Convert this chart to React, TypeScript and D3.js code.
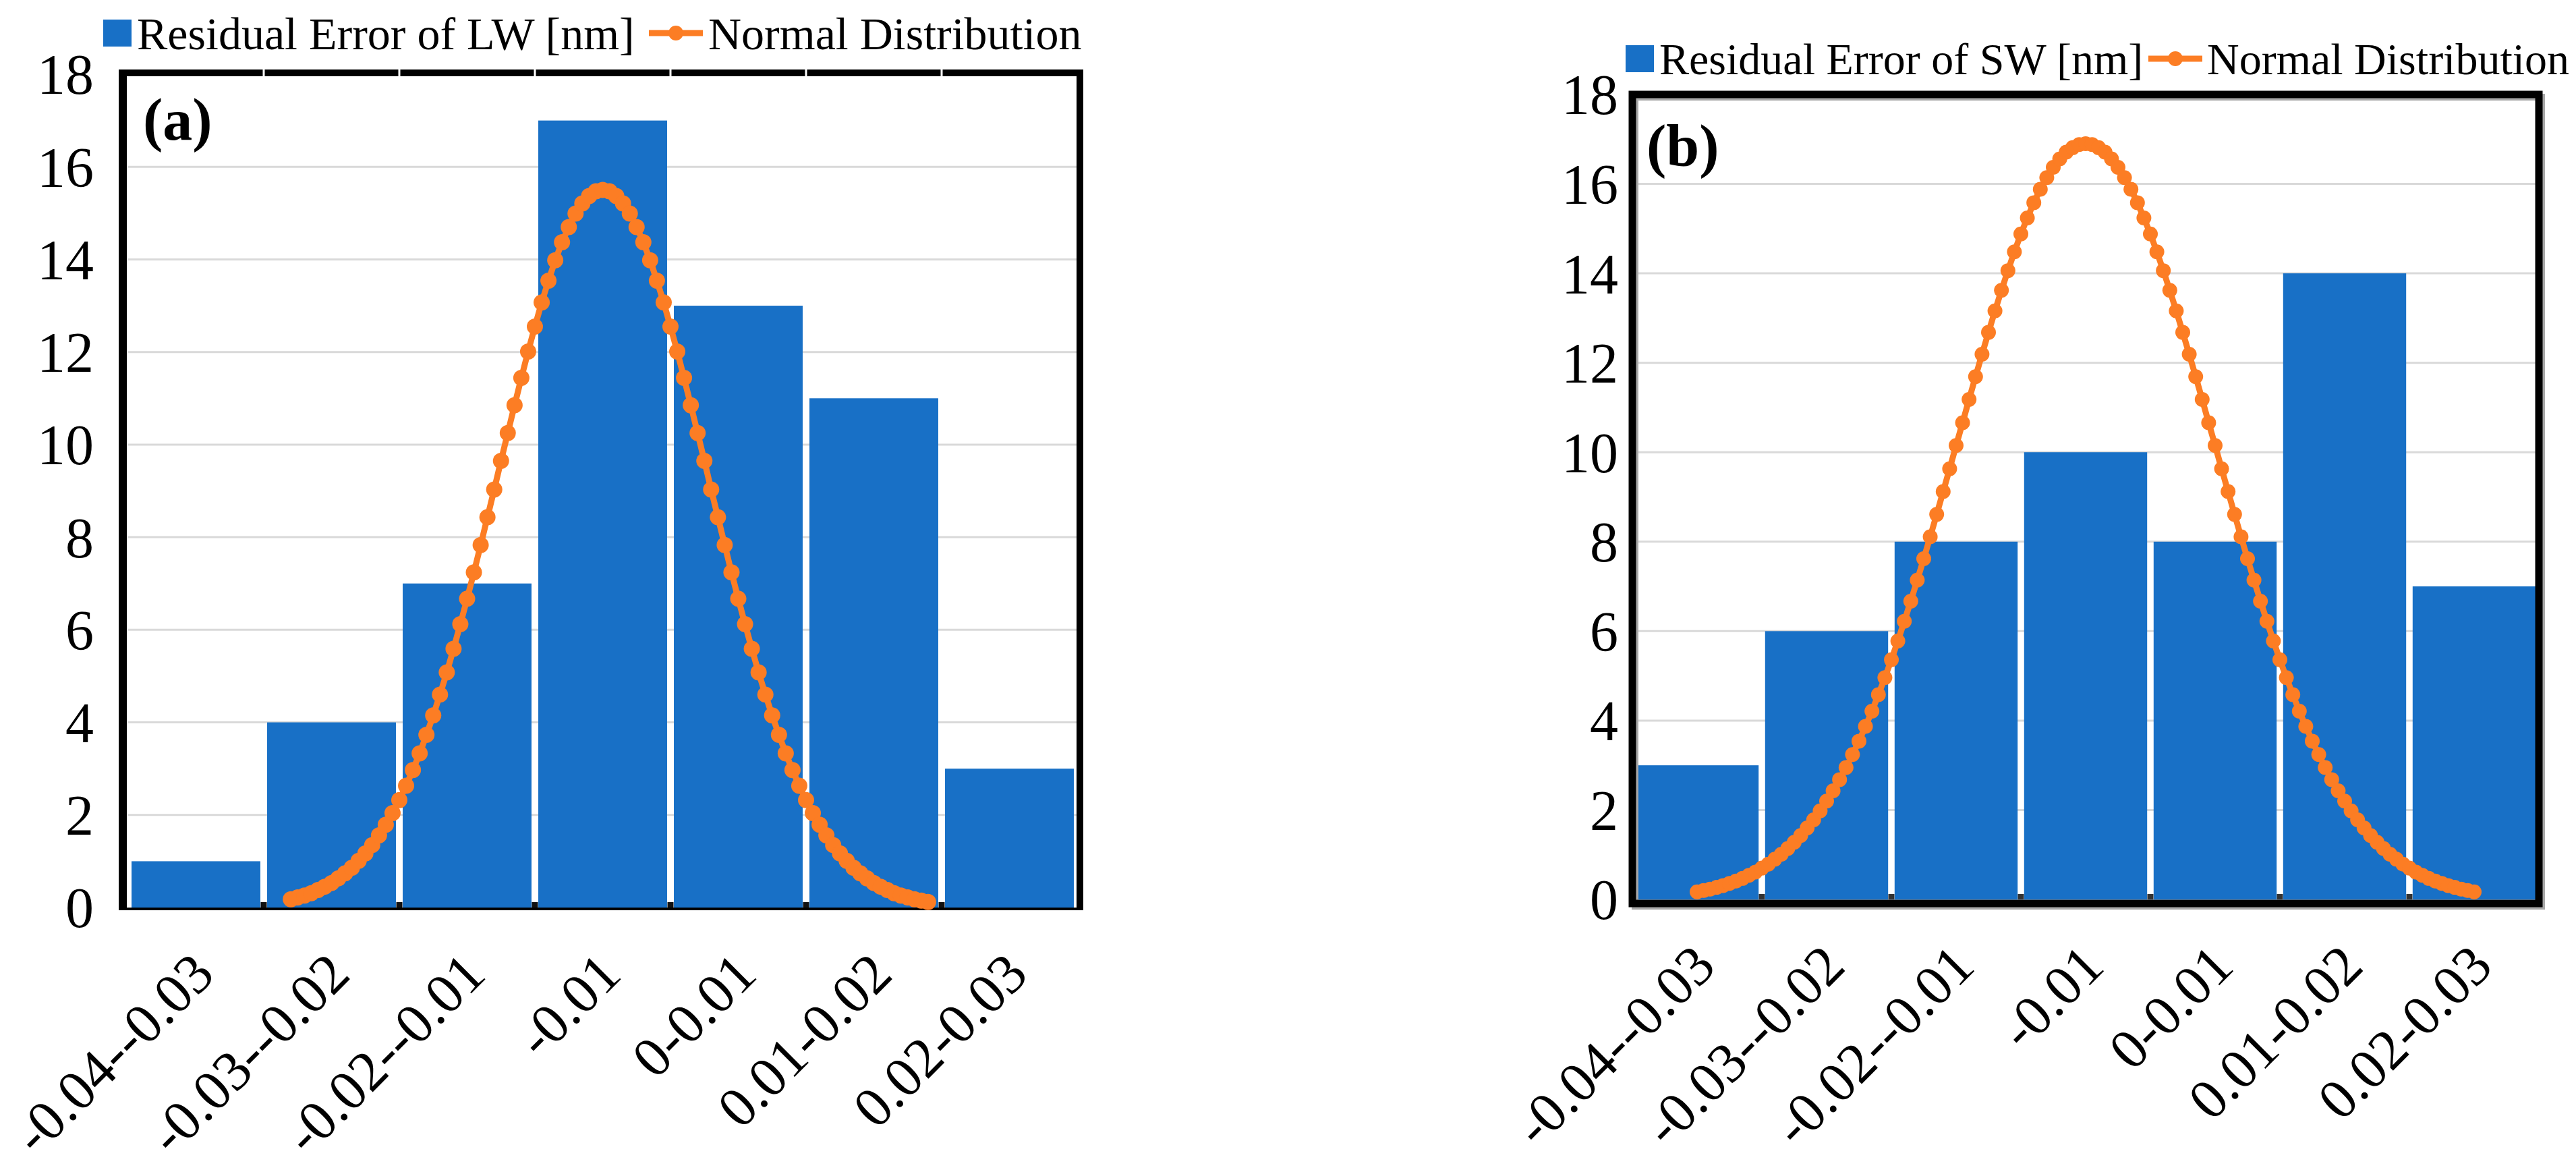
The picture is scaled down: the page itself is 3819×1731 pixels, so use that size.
import React from 'react';
import * as d3 from 'd3';

const CATEGORIES = ["-0.04--0.03", "-0.03--0.02", "-0.02--0.01", "-0.01", "0-0.01", "0.01-0.02", "0.02-0.03"];
const LW_COUNTS = [1, 4, 7, 17, 13, 11, 3];
const SW_COUNTS = [3, 6, 8, 10, 8, 14, 7];
const Y_TICKS = [0, 2, 4, 6, 8, 10, 12, 14, 16, 18];
const BIN_EDGES = [-40, 30]; // residual, x 1e-3 nm
const LEGEND_LW = ["Residual Error of LW [nm]", "Normal Distribution"];
const LEGEND_SW = ["Residual Error of SW [nm]", "Normal Distribution"];

// Normal distribution curve points (residual in 1e-3 nm, frequency)
const LW_CURVE_X = [-28,-27.5,-27,-26.5,-26,-25.5,-25,-24.5,-24,-23.5,-23,-22.5,-22,-21.5,-21,-20.5,-20,-19.5,-19,-18.5,-18,-17.5,-17,-16.5,-16,-15.5,-15,-14.5,-14,-13.5,-13,-12.5,-12,-11.5,-11,-10.5,-10,-9.5,-9,-8.5,-8,-7.5,-7,-6.5,-6,-5.5,-5,-4.5,-4,-3.5,-3,-2.5,-2,-1.5,-1,-0.5,0,0.5,1,1.5,2,2.5,3,3.5,4,4.5,5,5.5,6,6.5,7,7.5,8,8.5,9,9.5,10,10.5,11,11.5,12,12.5,13,13.5,14,14.5,15,15.5,16,16.5,17,17.5,18,18.5,19];
const LW_CURVE_Y = [0.18,0.22,0.26,0.31,0.38,0.45,0.53,0.63,0.74,0.86,1.01,1.17,1.35,1.56,1.79,2.04,2.32,2.63,2.97,3.33,3.73,4.15,4.60,5.08,5.59,6.12,6.67,7.24,7.83,8.43,9.03,9.65,10.25,10.85,11.44,12.01,12.55,13.07,13.54,13.98,14.37,14.70,14.99,15.21,15.37,15.47,15.50,15.47,15.37,15.21,14.99,14.70,14.37,13.98,13.54,13.07,12.55,12.01,11.44,10.85,10.25,9.65,9.03,8.43,7.83,7.24,6.67,6.12,5.59,5.08,4.60,4.15,3.73,3.33,2.97,2.63,2.32,2.04,1.79,1.56,1.35,1.17,1.01,0.86,0.74,0.63,0.53,0.45,0.38,0.31,0.26,0.22,0.18,0.15,0.12];
const SW_CURVE_X = [-35,-34.5,-34,-33.5,-33,-32.5,-32,-31.5,-31,-30.5,-30,-29.5,-29,-28.5,-28,-27.5,-27,-26.5,-26,-25.5,-25,-24.5,-24,-23.5,-23,-22.5,-22,-21.5,-21,-20.5,-20,-19.5,-19,-18.5,-18,-17.5,-17,-16.5,-16,-15.5,-15,-14.5,-14,-13.5,-13,-12.5,-12,-11.5,-11,-10.5,-10,-9.5,-9,-8.5,-8,-7.5,-7,-6.5,-6,-5.5,-5,-4.5,-4,-3.5,-3,-2.5,-2,-1.5,-1,-0.5,0,0.5,1,1.5,2,2.5,3,3.5,4,4.5,5,5.5,6,6.5,7,7.5,8,8.5,9,9.5,10,10.5,11,11.5,12,12.5,13,13.5,14,14.5,15,15.5,16,16.5,17,17.5,18,18.5,19,19.5,20,20.5,21,21.5,22,22.5,23,23.5,24,24.5,25];
const SW_CURVE_Y = [0.17,0.20,0.23,0.27,0.31,0.36,0.41,0.47,0.54,0.61,0.70,0.79,0.90,1.01,1.14,1.28,1.43,1.60,1.78,1.98,2.20,2.43,2.68,2.95,3.24,3.54,3.87,4.21,4.58,4.96,5.36,5.78,6.22,6.67,7.14,7.62,8.11,8.61,9.12,9.63,10.15,10.66,11.18,11.69,12.19,12.68,13.16,13.62,14.06,14.48,14.88,15.24,15.58,15.88,16.14,16.37,16.56,16.71,16.81,16.88,16.90,16.88,16.81,16.71,16.56,16.37,16.14,15.88,15.58,15.24,14.88,14.48,14.06,13.62,13.16,12.68,12.19,11.69,11.18,10.66,10.15,9.63,9.12,8.61,8.11,7.62,7.14,6.67,6.22,5.78,5.36,4.96,4.58,4.21,3.87,3.54,3.24,2.95,2.68,2.43,2.20,1.98,1.78,1.60,1.43,1.28,1.14,1.01,0.90,0.79,0.70,0.61,0.54,0.47,0.41,0.36,0.31,0.27,0.23,0.20,0.17];

const BLUE = '#1870c6';
const ORANGE = '#fc7d24';
const FONT = '"Liberation Serif", "Times New Roman", serif';

type Cfg = {
  left: number; right: number; y0: number; y18: number;
  counts: number[]; cx: number[]; cy: number[];
  legend: string[]; legendX: number; legendY: number; legendFont: number;
  legendText2X: number; legendMarkX: number;
  labelRight: number; tag: string; tagX: number; tagY: number;
  dotR: number; variant: 'a' | 'b';
};

function Panel({ c }: { c: Cfg }) {
  const band = d3.scaleBand<string>().domain(CATEGORIES).range([c.left, c.right]).paddingInner(0.05).paddingOuter(0.025);
  const step = band.step();
  const x = d3.scaleLinear().domain(BIN_EDGES).range([c.left, c.right]);
  const y = d3.scaleLinear().domain([0, 18]).range([c.y0, c.y18]);
  const line = d3.line<number>().x((_, i) => x(c.cx[i])).y((d) => y(d));
  const bounds = d3.range(1, CATEGORIES.length).map((i) => c.left + i * step);
  const tickFont = 84;
  return (
    <g>
      {Y_TICKS.filter((t) => t > 0 && t < 18).map((t) => (
        <line key={'g' + t} x1={c.left} x2={c.right} y1={y(t)} y2={y(t)} stroke="#d9d9d9" strokeWidth={3} />
      ))}
      {c.counts.map((v, i) => (
        <rect key={'b' + i} x={band(CATEGORIES[i])} width={band.bandwidth()} y={y(v)} height={y(0) - y(v)} fill={BLUE} />
      ))}
      <line x1={c.left} x2={c.right} y1={c.y0 + 1.5} y2={c.y0 + 1.5} stroke="#bcd0ea" strokeWidth={3} />
      {bounds.map((b, i) => (
        <rect key={'t' + i} x={b - 4.5} width={9} y={c.y0 - 8} height={8} fill={c.variant === 'a' ? '#111' : '#333'} />
      ))}
      {c.variant === 'a' ? (
        <g>
          <line x1={c.left - 14} x2={c.right + 9} y1={c.y18 - 2} y2={c.y18 - 2} stroke="#000" strokeWidth={10} />
          {bounds.map((b, i) => (
            <line key={'w' + i} x1={b} x2={b} y1={c.y18 - 8} y2={c.y18 + 3} stroke="#fff" strokeWidth={3} />
          ))}
          <line x1={c.left - 8} x2={c.left - 8} y1={c.y18 - 7} y2={c.y0 + 3} stroke="#000" strokeWidth={12} />
          <line x1={c.right + 4} x2={c.right + 4} y1={c.y18 - 7} y2={c.y0 + 3} stroke="#000" strokeWidth={10} />
          <line x1={c.left - 14} x2={c.right + 9} y1={c.y0 + 2} y2={c.y0 + 2} stroke="#000" strokeWidth={4} />
        </g>
      ) : (
        <g>
          <rect x={c.left + 4} y={c.y18 + 4} width={c.right - c.left} height={c.y0 + 6 - c.y18} fill="none" stroke="#a8a8a8" strokeWidth={10} />
          <rect x={c.left} y={c.y18} width={c.right - c.left} height={c.y0 + 6 - c.y18} fill="none" stroke="#000" strokeWidth={11} />
        </g>
      )}
      <path d={line(c.cy) || ''} fill="none" stroke={ORANGE} strokeWidth={9} />
      {c.cy.map((v, i) => (
        <circle key={'c' + i} cx={x(c.cx[i])} cy={y(v)} r={c.dotR} fill={ORANGE} />
      ))}
      {Y_TICKS.map((t) => (
        <text key={'y' + t} x={c.labelRight} y={y(t)} dy="0.35em" textAnchor="end" fontFamily={FONT} fontSize={tickFont} fill="#000">{t}</text>
      ))}
      {CATEGORIES.map((cat) => {
        const cx = (band(cat) as number) + band.bandwidth() / 2;
        const ay = c.y0 + 82;
        return (
          <text key={'x' + cat} transform={`translate(${cx + 10},${ay}) rotate(-45)`} dy="0.35em" textAnchor="end" fontFamily={FONT} fontSize={tickFont} fill="#000">{cat}</text>
        );
      })}
      <text x={c.tagX} y={c.tagY} fontFamily={FONT} fontSize={88} fontWeight="bold" fill="#000">{c.tag}</text>
      <rect x={c.legendX} y={c.legendY - 20} width={42} height={40} fill={BLUE} />
      <text x={c.legendX + 50} y={c.legendY} dy="0.35em" fontFamily={FONT} fontSize={c.legendFont} fill="#000">{c.legend[0]}</text>
      <line x1={c.legendMarkX} x2={c.legendMarkX + 80} y1={c.legendY} y2={c.legendY} stroke={ORANGE} strokeWidth={9} />
      <circle cx={c.legendMarkX + 40} cy={c.legendY} r={11} fill={ORANGE} />
      <text x={c.legendText2X} y={c.legendY} dy="0.35em" fontFamily={FONT} fontSize={c.legendFont} fill="#000">{c.legend[1]}</text>
    </g>
  );
}

const PANEL_A: Cfg = {
  left: 190, right: 1597, y0: 1345, y18: 110,
  counts: LW_COUNTS, cx: LW_CURVE_X, cy: LW_CURVE_Y,
  legend: LEGEND_LW, legendX: 153, legendY: 49, legendFont: 68,
  legendMarkX: 962, legendText2X: 1050,
  labelRight: 139, tag: '(a)', tagX: 212, tagY: 207, dotR: 12, variant: 'a',
};

const PANEL_B: Cfg = {
  left: 2420, right: 3764, y0: 1333, y18: 140,
  counts: SW_COUNTS, cx: SW_CURVE_X, cy: SW_CURVE_Y,
  legend: LEGEND_SW, legendX: 2410, legendY: 87, legendFont: 66,
  legendMarkX: 3185, legendText2X: 3272,
  labelRight: 2399, tag: '(b)', tagX: 2441, tagY: 246, dotR: 11, variant: 'b',
};

export default function App() {
  return (
    <svg width={3819} height={1731} viewBox="0 0 3819 1731" style={{ position: 'absolute', left: 0, top: 0, display: 'block', background: '#fff' }}>
      <rect x={0} y={0} width={3819} height={1731} fill="#fff" />
      <Panel c={PANEL_A} />
      <Panel c={PANEL_B} />
    </svg>
  );
}
